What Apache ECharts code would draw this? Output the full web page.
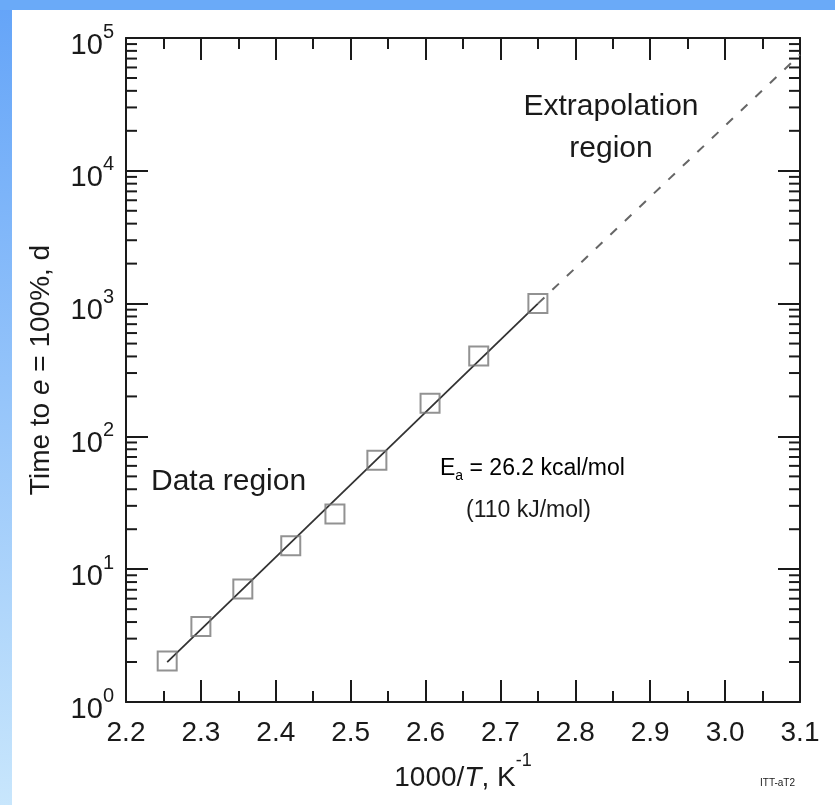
<!DOCTYPE html>
<html>
<head>
<meta charset="utf-8">
<script src="https://cdn.jsdelivr.net/npm/echarts@6/dist/echarts.min.js"></script>
<style>
  html, body { margin: 0; padding: 0; background: #fff; }
  #main { width: 835px; height: 805px; }
</style>
</head>
<body>
<div id="main"></div>
<script>
// measured points (1000/T, days)
const invT = [2.255, 2.300, 2.356, 2.420, 2.479, 2.535, 2.606, 2.671, 2.750];
const days = [2.04, 3.7, 7.1, 15, 26, 66, 178, 403, 1000];

// fitted line, solid over the data, dashed beyond
const fitX = [2.255, 2.75];
const fitY = [2.0, 1000];
const extX = [2.75, 3.1];
const extY = [1000, 75000];

// y minor ticks 2..9 in each decade
const decades = [1, 10, 100, 1000, 10000];
const minorMult = [2, 3, 4, 5, 6, 7, 8, 9];
const yMinor = [];
decades.forEach(d => minorMult.forEach(m => yMinor.push(d * m)));

const font = 'Liberation Sans, Arial, sans-serif';
const ink = '#1a1a1a';

const chart = echarts.init(document.getElementById('main'));

const supRich = {
    b: { fontSize: 29, fontFamily: font, color: ink, lineHeight: 44, verticalAlign: 'bottom' },
    s: { fontSize: 20, fontFamily: font, color: ink, verticalAlign: 'top', padding: [6, 0, 0, 0] }
};

const option = {
    backgroundColor: '#fff',
    animation: false,
    graphic: [
        {
            type: 'rect', z: -10,
            shape: { x: 0, y: 0, width: 12, height: 805 },
            style: {
                fill: new echarts.graphic.LinearGradient(0, 0, 0, 1, [
                    { offset: 0, color: '#64a4f8' },
                    { offset: 1, color: '#c8e6fc' }
                ])
            }
        },
        {
            type: 'rect', z: -10,
            shape: { x: 0, y: 0, width: 835, height: 10 },
            style: { fill: '#6aaaf8' }
        },
        {
            type: 'text', x: 611, y: 86,
            style: {
                text: 'Extrapolation\nregion', align: 'center',
                fontSize: 30, lineHeight: 42, fontFamily: font, fill: ink
            }
        },
        {
            type: 'text', left: 151, top: 467,
            style: { text: 'Data region', fontSize: 30, fontFamily: font, fill: ink }
        },
        {
            type: 'text', left: 440, top: 457,
            style: {
                text: '{t|E}{u|a}{t| = 26.2 kcal/mol}',
                rich: {
                    t: { fontSize: 23, fontFamily: font, color: ink, lineHeight: 30 },
                    u: { fontSize: 14, fontFamily: font, color: ink, verticalAlign: 'bottom' }
                }
            }
        },
        {
            type: 'text', left: 466, top: 499,
            style: { text: '(110 kJ/mol)', fontSize: 23, fontFamily: font, fill: ink }
        },
        {
            type: 'text', left: 760, top: 778,
            style: { text: 'ITT-aT2', fontSize: 10, fontFamily: font, fill: ink }
        }
    ],
    grid: { left: 126, right: 35, top: 38, bottom: 103 },
    xAxis: [
        {
            type: 'value', position: 'bottom',
            min: 2.2, max: 3.1, interval: 0.1,
            name: '{n|1000/}{i|T}{n|, K}{s|-1}',
            nameLocation: 'middle', nameGap: 50,
            nameTextStyle: {
                rich: {
                    n: { fontSize: 28, fontFamily: font, color: ink, lineHeight: 40, verticalAlign: 'bottom' },
                    i: { fontSize: 28, fontFamily: font, color: ink, fontStyle: 'italic', lineHeight: 40, verticalAlign: 'bottom' },
                    s: { fontSize: 18, fontFamily: font, color: ink, verticalAlign: 'top' }
                }
            },
            axisLine: { show: true, onZero: false, lineStyle: { color: ink, width: 2 } },
            axisTick: { show: true, inside: true, length: 22, lineStyle: { color: ink, width: 2 } },
            minorTick: { show: true, splitNumber: 2, length: 11, lineStyle: { color: ink, width: 2 } },
            axisLabel: {
                margin: 17, fontSize: 28, fontFamily: font, color: ink,
                formatter: v => v.toFixed(1)
            },
            splitLine: { show: false }
        },
        {
            type: 'value', position: 'top',
            min: 2.2, max: 3.1, interval: 0.1,
            axisLine: { show: true, onZero: false, lineStyle: { color: ink, width: 2 } },
            axisTick: { show: true, inside: true, length: 22, lineStyle: { color: ink, width: 2 } },
            minorTick: { show: true, splitNumber: 2, length: 11, lineStyle: { color: ink, width: 2 } },
            axisLabel: { show: false },
            splitLine: { show: false }
        }
    ],
    yAxis: [
        {
            type: 'log', logBase: 10, min: 1, max: 100000, splitNumber: 5,
            position: 'left',
            name: '{n|Time to }{i|e}{n| = 100%, d}',
            nameLocation: 'middle', nameGap: 71, nameRotate: 90,
            nameTextStyle: {
                rich: {
                    n: { fontSize: 28, fontFamily: font, color: ink },
                    i: { fontSize: 28, fontFamily: font, color: ink, fontStyle: 'italic' }
                }
            },
            axisLine: { show: true, onZero: false, lineStyle: { color: ink, width: 2 } },
            axisTick: { show: true, inside: true, length: 22, lineStyle: { color: ink, width: 2 } },
            axisLabel: {
                margin: 12,
                formatter: v => '{b|10}{s|' + Math.round(Math.log10(v)) + '}',
                rich: supRich
            },
            splitLine: { show: false }
        },
        {
            type: 'log', logBase: 10, min: 1, max: 100000, splitNumber: 5,
            position: 'right',
            axisLine: { show: true, onZero: false, lineStyle: { color: ink, width: 2 } },
            axisTick: { show: true, inside: true, length: 22, lineStyle: { color: ink, width: 2 } },
            axisLabel: { show: false },
            splitLine: { show: false }
        }
    ],
    series: [
        {
            // minor ticks of the log axes, left and right
            type: 'custom',
            silent: true,
            clip: false,
            data: yMinor.map(v => [2.2, v]),
            renderItem: function (params, api) {
                const cs = params.coordSys;
                const y = api.coord([api.value(0), api.value(1)])[1];
                const st = { stroke: ink, lineWidth: 2 };
                return {
                    type: 'group',
                    children: [
                        { type: 'line', shape: { x1: cs.x, y1: y, x2: cs.x + 11, y2: y }, style: st },
                        { type: 'line', shape: { x1: cs.x + cs.width, y1: y, x2: cs.x + cs.width - 11, y2: y }, style: st }
                    ]
                };
            }
        },
        {
            type: 'line',
            data: fitX.map((x, i) => [x, fitY[i]]),
            showSymbol: false,
            lineStyle: { color: '#333', width: 1.8 },
            z: 3
        },
        {
            type: 'line',
            data: extX.map((x, i) => [x, extY[i]]),
            showSymbol: false,
            lineStyle: { color: '#666', width: 2, type: [9, 11] },
            z: 3
        },
        {
            type: 'scatter',
            data: invT.map((x, i) => [x, days[i]]),
            symbol: 'rect',
            symbolSize: 19,
            itemStyle: { color: 'rgba(0,0,0,0)', borderColor: '#777', borderWidth: 2 },
            z: 4
        }
    ]
};

chart.setOption(option);
</script>
</body>
</html>
